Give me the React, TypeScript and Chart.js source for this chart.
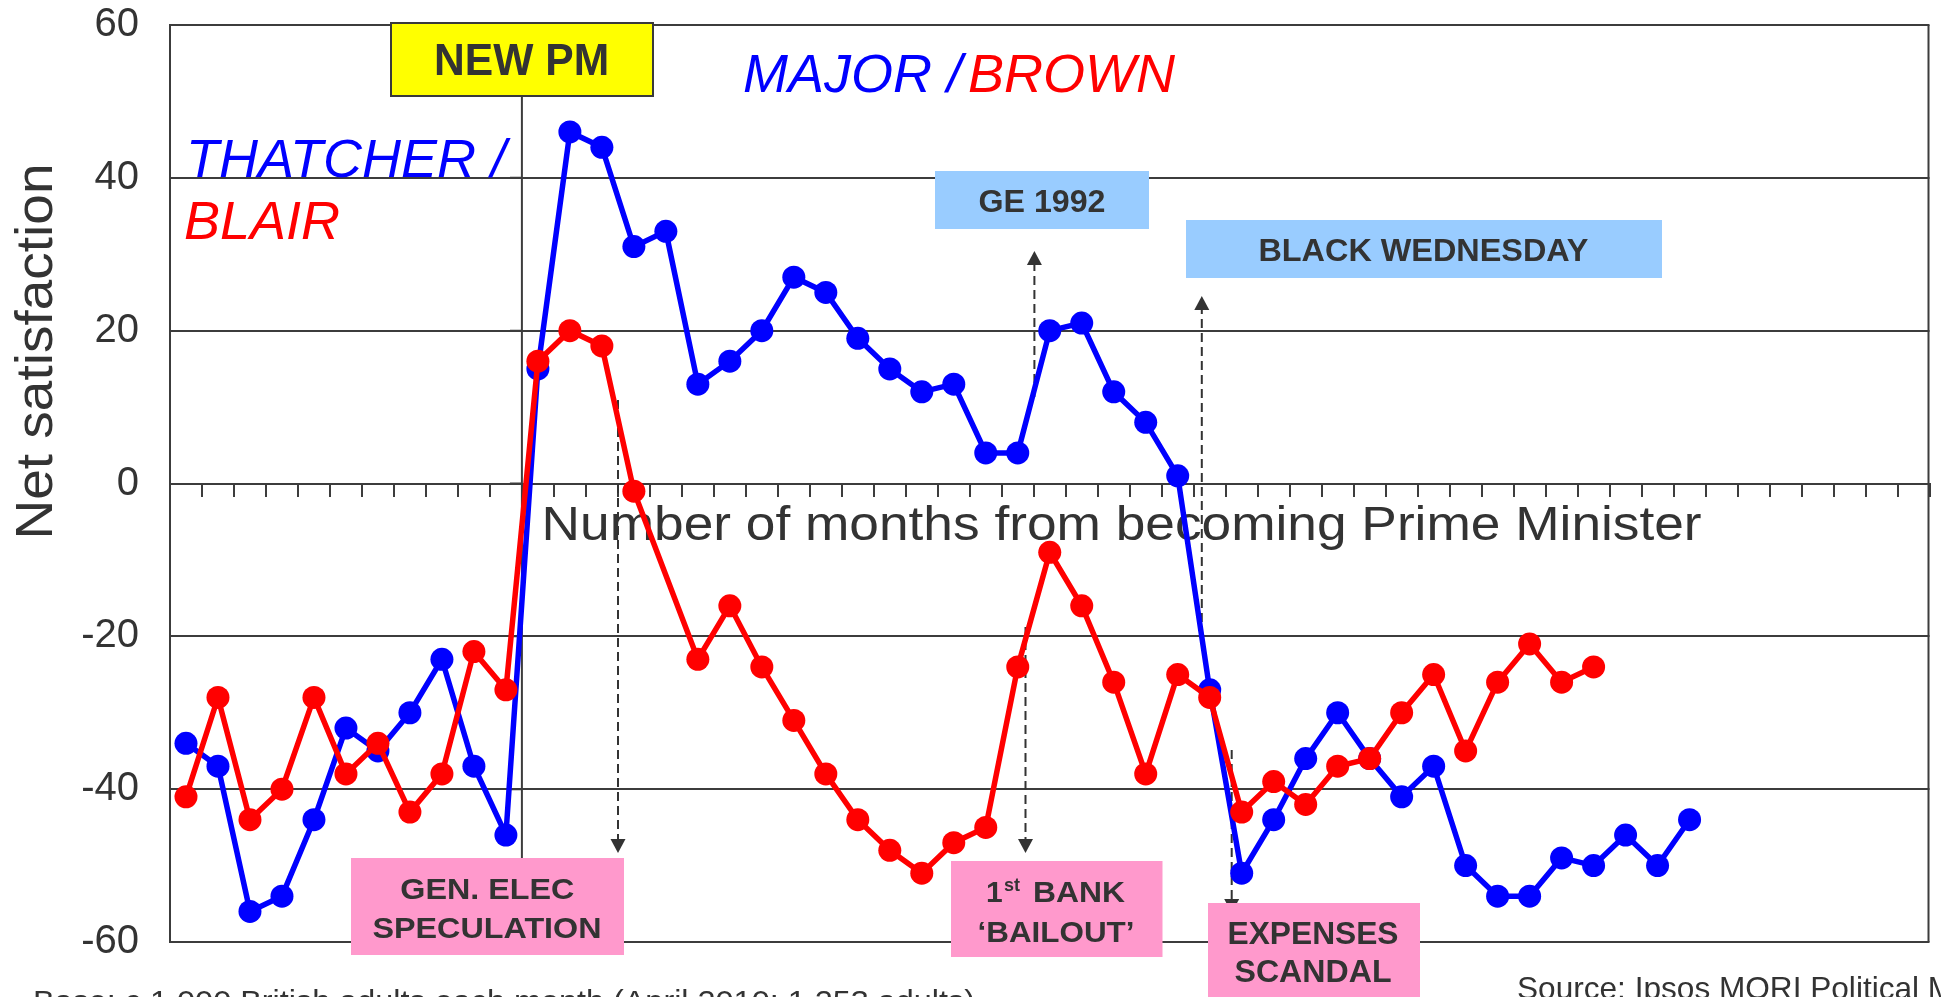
import React, { useEffect, useRef } from 'react';
import { Chart, registerables } from 'chart.js';

Chart.register(...registerables);

// Months relative to becoming Prime Minister (category axis, labels hidden)
const months = [
  -11, -10, -9, -8, -7, -6, -5, -4, -3, -2, -1,
  0, 1, 2, 3, 4, 5, 6, 7, 8, 9, 10, 11, 12, 13, 14, 15, 16, 17, 18, 19,
  20, 21, 22, 23, 24, 25, 26, 27, 28, 29, 30, 31, 32, 33, 34, 35, 36, 37,
  38, 39, 40, 41, 42, 43,
];

// Thatcher (before) / Major (after) net satisfaction
const thatcherMajor = [
  -34, -37, -56, -54, -44, -32, -35, -30, -23, -37, -46,
  15, 46, 44, 31, 33, 13, 16, 20, 27, 25, 19, 15, 12, 13, 4, 4, 20, 21, 12, 8,
  1, -27, -51, -44, -36, -30, -36, -41, -37, -50, -54, -54, -49, -50, -46, -50,
  -44, null, null, null, null, null, null, null,
];

// Blair (before) / Brown (after) net satisfaction
const blairBrown = [
  -41, -28, -44, -40, -28, -38, -34, -43, -38, -22, -27,
  16, 20, 18, -1, null, -23, -16, -24, -31, -38, -44, -48, -51, -47, -45, -24,
  -9, -16, -26, -38, -25, -28, -43, -39, -42, -37, -36, -30, -25, -35, -26,
  -21, -26, -24, null, null, null, null, null, null, null, null, null, null,
];

const yTicks = [-60, -40, -20, 0, 20, 40, 60];

const FONT = '"Liberation Sans", Arial, Helvetica, sans-serif';
const GRID = '#3c3c3c';
const TEXT = '#333333';
const BLUE = '#0000FF';
const RED = '#FF0000';
const PINK = '#FF99CC';
const LIGHTBLUE = '#99CCFF';
const YELLOW = '#FFFF00';

type TextOpts = {
  size: number;
  weight?: string;
  style?: string;
  color: string;
  align?: CanvasTextAlign;
  width?: number;
};

function drawText(ctx: CanvasRenderingContext2D, s: string, x: number, y: number, o: TextOpts) {
  ctx.save();
  ctx.font = `${o.style || 'normal'} ${o.weight || 'normal'} ${o.size}px ${FONT}`;
  ctx.fillStyle = o.color;
  ctx.textBaseline = 'alphabetic';
  ctx.textAlign = o.align || 'left';
  const w = ctx.measureText(s).width;
  const sx = o.width ? o.width / w : 1;
  ctx.translate(x, y);
  ctx.scale(sx, 1);
  ctx.fillText(s, 0, 0);
  ctx.restore();
}

function drawBox(ctx: CanvasRenderingContext2D, x1: number, y1: number, x2: number, y2: number, fill: string, stroke?: string) {
  ctx.save();
  ctx.fillStyle = fill;
  ctx.fillRect(x1, y1, x2 - x1, y2 - y1);
  if (stroke) {
    ctx.strokeStyle = stroke;
    ctx.lineWidth = 2;
    ctx.strokeRect(x1, y1, x2 - x1, y2 - y1);
  }
  ctx.restore();
}

function drawArrow(ctx: CanvasRenderingContext2D, x: number, yFrom: number, yTip: number) {
  const dir = yTip > yFrom ? 1 : -1;
  const headH = 14;
  const headW = 7.5;
  ctx.save();
  ctx.strokeStyle = TEXT;
  ctx.lineWidth = 2;
  ctx.setLineDash([9, 5]);
  ctx.beginPath();
  ctx.moveTo(x, yFrom);
  ctx.lineTo(x, yTip - dir * headH);
  ctx.stroke();
  ctx.setLineDash([]);
  ctx.fillStyle = TEXT;
  ctx.beginPath();
  ctx.moveTo(x, yTip);
  ctx.lineTo(x - headW, yTip - dir * headH);
  ctx.lineTo(x + headW, yTip - dir * headH);
  ctx.closePath();
  ctx.fill();
  ctx.restore();
}

const overlay = {
  id: 'overlay',
  beforeDatasetsDraw(chart: any) {
    const { ctx, chartArea: a, scales } = chart;
    const xs = scales.x;
    const ys = scales.y;

    drawText(ctx, 'Number of months from becoming Prime Minister', 1121.6, 540, {
      size: 49, color: TEXT, align: 'center', width: 1160,
    });

    ctx.save();
    ctx.strokeStyle = GRID;
    ctx.lineWidth = 2;
    ctx.beginPath();
    ctx.moveTo(a.right - 1, a.top);
    ctx.lineTo(a.right - 1, a.bottom);
    ctx.stroke();

    // vertical axis crossing at the change of Prime Minister
    const px = (xs.getPixelForValue(10) + xs.getPixelForValue(11)) / 2;
    ctx.beginPath();
    ctx.moveTo(px, a.top);
    ctx.lineTo(px, a.bottom);
    yTicks.forEach((v) => {
      const py = ys.getPixelForValue(v);
      ctx.moveTo(px - 12, py);
      ctx.lineTo(px, py);
    });
    ctx.stroke();
    ctx.restore();

    drawArrow(ctx, 618, 400, 853);
    drawArrow(ctx, 1025.5, 627, 853);
    drawArrow(ctx, 1231.7, 750, 913);
    drawArrow(ctx, 1034.4, 397, 251);
    drawArrow(ctx, 1201.8, 622, 296);
  },
  afterDatasetsDraw(chart: any) {
    const { ctx } = chart;

    drawBox(ctx, 391, 23, 653, 96, YELLOW, '#3a3a3a');
    drawText(ctx, 'NEW PM', 521.6, 75, { size: 44, weight: 'bold', color: TEXT, align: 'center', width: 175 });

    drawBox(ctx, 935, 171, 1149, 229, LIGHTBLUE);
    drawText(ctx, 'GE 1992', 1042, 212, { size: 32, weight: 'bold', color: TEXT, align: 'center', width: 127 });

    drawBox(ctx, 1186, 220, 1662, 278, LIGHTBLUE);
    drawText(ctx, 'BLACK WEDNESDAY', 1423.4, 261, { size: 32, weight: 'bold', color: TEXT, align: 'center', width: 330 });

    drawBox(ctx, 351, 858, 624, 955, PINK);
    drawText(ctx, 'GEN. ELEC', 487.3, 899.3, { size: 29.5, weight: 'bold', color: TEXT, align: 'center', width: 174 });
    drawText(ctx, 'SPECULATION', 487, 938.3, { size: 29.5, weight: 'bold', color: TEXT, align: 'center', width: 229 });

    drawBox(ctx, 951, 861, 1162.5, 957, PINK);
    drawText(ctx, '1', 986, 901.7, { size: 30, weight: 'bold', color: TEXT });
    drawText(ctx, 'st', 1004, 891, { size: 18, weight: 'bold', color: TEXT });
    drawText(ctx, 'BANK', 1033, 901.7, { size: 30, weight: 'bold', color: TEXT, width: 92 });
    drawText(ctx, '\u2018BAILOUT\u2019', 1056, 941.7, { size: 30, weight: 'bold', color: TEXT, align: 'center', width: 157 });

    drawBox(ctx, 1208, 903, 1420, 1000, PINK);
    drawText(ctx, 'EXPENSES', 1313, 944, { size: 31, weight: 'bold', color: TEXT, align: 'center', width: 171 });
    drawText(ctx, 'SCANDAL', 1313, 981.7, { size: 31, weight: 'bold', color: TEXT, align: 'center', width: 157 });

    drawText(ctx, 'THATCHER /', 186, 177, { size: 54, style: 'italic', color: BLUE });
    drawText(ctx, 'BLAIR', 184, 239.3, { size: 54, style: 'italic', color: RED });
    drawText(ctx, 'MAJOR /', 743, 92.3, { size: 54, style: 'italic', color: BLUE });
    drawText(ctx, 'BROWN', 968, 92.3, { size: 54, style: 'italic', color: RED });
  },
  afterDraw(chart: any) {
    const { ctx } = chart;
    ctx.save();
    ctx.translate(52, 351.5);
    ctx.rotate(-Math.PI / 2);
    drawText(ctx, 'Net satisfaction', 0, 0, { size: 52, color: TEXT, align: 'center', width: 376 });
    ctx.restore();

    drawText(ctx, 'Base: c.1,000 British adults each month (April 2010: 1,253 adults)', 33, 1011, {
      size: 30, color: TEXT, width: 942,
    });
    drawText(ctx, 'Source: Ipsos MORI Political Monitor', 1517, 999, { size: 31.6, color: TEXT });
  },
};

function seriesStyle(color: string) {
  return {
    borderColor: color,
    backgroundColor: color,
    pointBackgroundColor: color,
    pointBorderColor: color,
    borderWidth: 5.5,
    pointRadius: 11.5,
    pointHoverRadius: 11.5,
    pointBorderWidth: 0,
    tension: 0,
    spanGaps: true,
  };
}

export default function App() {
  const ref = useRef<HTMLCanvasElement | null>(null);

  useEffect(() => {
    document.body.style.margin = '0';
    const canvas = ref.current;
    if (!canvas) return;
    const chart = new Chart(canvas, {
      type: 'line',
      data: {
        labels: months,
        datasets: [
          { label: 'Blair / Brown', data: blairBrown, ...seriesStyle(RED) },
          { label: 'Thatcher / Major', data: thatcherMajor, ...seriesStyle(BLUE) },
        ],
      },
      options: {
        animation: false,
        responsive: false,
        devicePixelRatio: 1,
        events: [],
        layout: { padding: { left: 0, top: 25, right: 1, bottom: 55 } },
        plugins: {
          legend: { display: false },
          tooltip: { enabled: false },
          title: { display: false },
        },
        scales: {
          x: {
            type: 'category',
            position: { y: 0 },
            offset: true,
            grid: {
              offset: true,
              drawOnChartArea: false,
              drawTicks: true,
              tickLength: 12,
              color: GRID,
              lineWidth: 2,
            },
            border: { display: true, color: GRID, width: 2 },
            ticks: { display: false },
          },
          y: {
            type: 'linear',
            position: 'left',
            min: -60,
            max: 60,
            afterFit: (s: any) => {
              s.width = 170;
              s.paddingTop = 0;
              s.paddingBottom = 0;
            },
            afterBuildTicks: (s: any) => {
              s.ticks = yTicks.map((v) => ({ value: v }));
            },
            grid: { color: GRID, lineWidth: 2, drawTicks: false },
            border: { display: true, color: GRID, width: 2 },
            ticks: {
              padding: 31,
              color: TEXT,
              font: { family: FONT, size: 40 },
              callback: (v: any) => String(v),
            },
          },
        },
      } as any,
      plugins: [overlay],
    });
    return () => chart.destroy();
  }, []);

  return (
    <div style={{ position: 'absolute', left: 0, top: 0, width: 1941, height: 997, background: '#fff' }}>
      <canvas ref={ref} width={1941} height={997} style={{ width: 1941, height: 997, display: 'block' }} />
    </div>
  );
}
